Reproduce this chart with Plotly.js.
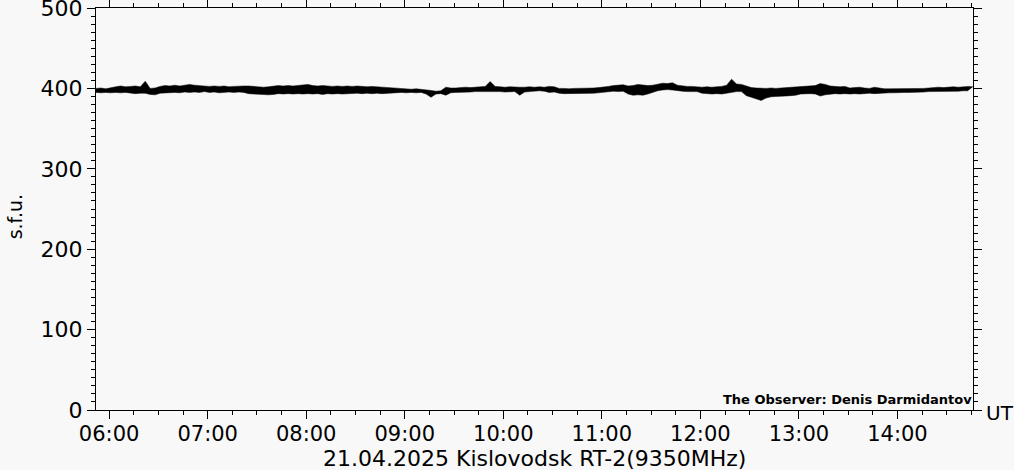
<!DOCTYPE html>
<html>
<head>
<meta charset="utf-8">
<script src="https://cdn.plot.ly/plotly-3.0.1.min.js"></script>
<style>
html,body{margin:0;padding:0;background:#f8f8f8;}
#chart{width:1014px;height:470px;}
</style>
</head>
<body>
<div id="chart"></div>
<script>
// Sampling: start 05:52 UT, every 3 minutes
var startTime = '2025-04-21 05:52:00';
var stepMinutes = 3;

// Upper envelope of the 9350 MHz flux trace (s.f.u.)
var fluxUpper = [
400,400.5,399.5,401,402,403,402,402.5,403,402,409,400,400.5,402.5,403.5,403,404,403,404,405,
404,403.5,403,402.5,403,402.5,403,402,402.5,403,403,403,402.5,402,401.5,402,403,403.5,403,403.5,
403,403.5,404,405,403.5,403,403.5,403,402.5,403,402.5,403,402.5,403,402.5,402,402.5,402,401.5,401,
400.5,400,399.5,399.5,399,399.5,399,398,397.5,396.5,397,401.5,400.5,400.5,401,401.5,401,401.5,402,402.5,
408.5,402.5,402,401.5,402,401.5,401.5,401.5,402,401.5,402,401.5,402.5,402,400,400,399.5,400,400,400,
400.5,400.5,401,401.5,402.5,403.5,404,404.5,403,403.5,405,404,403.5,404,405.5,406.5,406,407,404,403,
402.5,402.5,402,401.5,402,401.5,402,402.5,404,411.5,405.5,405,403,401,400.5,400,400,400.5,400,400.5,
401,401.5,401.5,402.5,402.5,403,403.5,406,405,403,402.5,402,402.5,400.5,401,401.5,400.5,400,401.5,400.5,
399.5,399.5,399.5,399.5,399.5,399.5,399.5,399.5,400,400.5,401,401.5,401,401.5,402,401.5,402,402.5,402
];
// Lower envelope of the same trace (s.f.u.)
var fluxLower = [
395,394.5,395,394.5,395,394.5,395,394,393.5,394,394,392.5,392,394,394.5,395,395,394.5,395.5,395,
395.5,395,396,395,395.5,394.5,395,395.5,395,395.5,395,393.5,393,392.5,392,392,392.5,393.5,393,393.5,
393,393.5,393,393.5,393,393.5,392.5,393.5,393,393.5,393,393.5,393.5,394,393.5,394,393.5,394,393.5,394,
394.5,394.5,395,394.5,395,394.5,395,393,389,393,393.5,391.5,394.5,395,395,395.5,395.5,396,396,396,
396.5,396,396,395.5,395.5,396,391.5,395.5,396,396.5,397,396.5,395,395.5,394,393.5,393.5,393.5,394,393.5,
394,394,394.5,395,396,396.5,396,396.5,393,391.5,392,391.5,393,395,397,398,398.5,398,397,396.5,
396,396,396,394,393.5,393,393.5,393,394,395,396,396,391,389,387,385,388,389.5,390,390,
390.5,391,391.5,393,393.5,393.5,393,390.5,392,393,393.5,393,393.5,393,393.5,393,393.5,394,393.5,394,
394.5,394.5,394.5,395,395,395,395,395,395.5,396,396,396,396.5,396.5,396,396.5,397,397
];

var xTickLabels = ['06:00','07:00','08:00','09:00','10:00','11:00','12:00','13:00','14:00'];
var yTickValues = [0,100,200,300,400,500];

function pad(n){return (n<10?'0':'')+n;}
function minutesToStamp(m){
  var h = Math.floor(m/60), mm = m%60;
  return '2025-04-21 ' + pad(h) + ':' + pad(mm) + ':00';
}
var startMin = 5*60+52;
var times = fluxUpper.map(function(_, i){ return minutesToStamp(startMin + i*stepMinutes); });
var endStamp = times[times.length-1];
var xTickVals = xTickLabels.map(function(t){ return '2025-04-21 ' + t + ':00'; });

var font = 'DejaVu Sans, sans-serif';

var traces = [
  {x: times, y: fluxLower, type: 'scatter', mode: 'lines',
   line: {color: '#000', width: 0.5}, hoverinfo: 'skip', showlegend: false},
  {x: times, y: fluxUpper, type: 'scatter', mode: 'lines', fill: 'tonexty',
   fillcolor: '#000', line: {color: '#000', width: 0.5}, hoverinfo: 'skip', showlegend: false}
];

var layout = {
  width: 1014, height: 470,
  paper_bgcolor: '#f8f8f8', plot_bgcolor: '#f8f8f8',
  margin: {l: 96, r: 41, t: 8, b: 60, pad: 0},
  showlegend: false,
  font: {family: font, color: '#000', size: 21},
  xaxis: {
    type: 'date', range: [startTime, endStamp],
    tickmode: 'array', tickvals: xTickVals, ticktext: xTickLabels,
    ticks: 'outside', ticklen: 8, tickwidth: 1, tickcolor: '#000',
    showline: true, linecolor: '#000', linewidth: 1, mirror: 'ticks',
    showgrid: false, zeroline: false, ticklabeloverflow: 'allow',
    ticklabelstandoff: -3,
    tickfont: {family: font, size: 21, color: '#000'},
    minor: {dtick: 15*60*1000, tick0: '2025-04-21 06:00:00', ticks: 'outside', ticklen: 4, tickcolor: '#000', tickwidth: 1, showgrid: false}
  },
  yaxis: {
    range: [0, 500], tickmode: 'array', tickvals: yTickValues,
    ticks: 'outside', ticklen: 8, tickwidth: 1, tickcolor: '#000',
    showline: true, linecolor: '#000', linewidth: 1, mirror: 'ticks',
    showgrid: false, zeroline: false, ticklabeloverflow: 'allow',
    tickfont: {family: font, size: 22, color: '#000'},
    minor: {dtick: 10, tick0: 0, ticks: 'outside', ticklen: 4, tickcolor: '#000', tickwidth: 1, showgrid: false}
  },
  annotations: [
    {text: '21.04.2025 Kislovodsk RT-2(9350MHz)', xref: 'paper', yref: 'paper',
     x: 0.5, y: -0.088, xanchor: 'center', yanchor: 'top', showarrow: false, borderpad: 0,
     font: {family: font, size: 22, color: '#000'}},
    {text: 'UT', xref: 'paper', yref: 'paper', x: 1.013, y: 0, xanchor: 'left', yanchor: 'middle',
     yshift: -3, showarrow: false, font: {family: font, size: 20, color: '#000'}},
    {text: 's.f.u.', xref: 'paper', yref: 'paper', x: -0.092, y: 0.48, textangle: -90,
     xanchor: 'center', yanchor: 'middle', showarrow: false,
     font: {family: font, size: 19, color: '#000'}},
    {text: '<b>The Observer: Denis Darmidantov</b>', xref: 'paper', yref: 'paper', x: 1, y: 0.003,
     xanchor: 'right', yanchor: 'bottom', xshift: 1, showarrow: false,
     font: {family: font, size: 13, color: '#000'}}
  ]
};

Plotly.newPlot('chart', traces, layout, {staticPlot: true, displayModeBar: false});
</script>
</body>
</html>
